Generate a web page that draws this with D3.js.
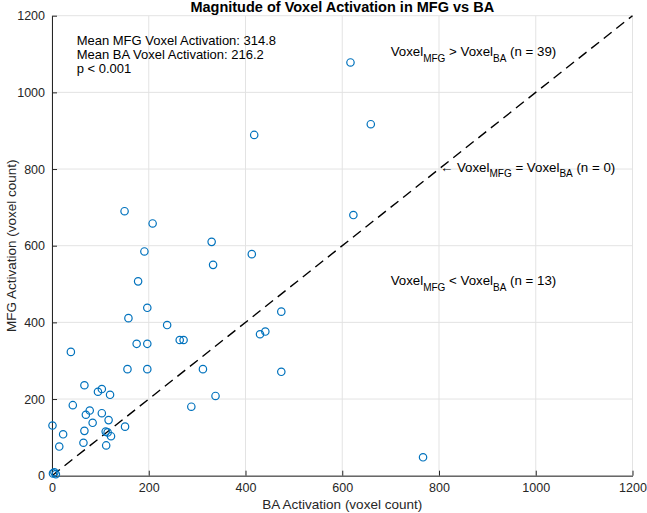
<!DOCTYPE html>
<html>
<head>
<meta charset="utf-8">
<script src="https://cdn.jsdelivr.net/npm/d3@7"></script>
<style>
  body { margin: 0; background: #fff; }
  text { font-family: "Liberation Sans", Arial, Helvetica, sans-serif; }
</style>
</head>
<body>
<div id="chart"></div>
<script>
// BA activation (x) and MFG activation (y), voxel counts, one entry per subject
var baValues = [178, 197, 158, 238, 39, 175, 197, 264, 272, 156, 197, 67, 103, 95, 120, 43, 78, 70, 103, 117,
                84, 1, 67, 23, 65, 15, 150, 208, 330, 191, 413, 333, 418, 617, 659, 623, 111, 2, 5,
                474, 430, 441, 312, 474, 338, 288, 767, 151, 122, 112, 115, 8];
var mfgValues = [507, 438, 411, 393, 323, 344, 344, 354, 354, 278, 278, 236, 226, 219, 211, 184, 170, 159, 163, 145,
                 138, 131, 117, 108, 86, 76, 690, 658, 610, 585, 578, 550, 889, 1078, 917, 680, 115, 6, 9,
                 428, 369, 376, 278, 271, 208, 180, 48, 128, 103, 79, 113, 4];
var tickValues = [0, 200, 400, 600, 800, 1000, 1200];
var statLines = ["Mean MFG Voxel Activation: 314.8", "Mean BA Voxel Activation: 216.2", "p < 0.001"];

var width = 647, height = 513;
var margin = {top: 15.7, right: 14.5, bottom: 37.3, left: 52};

var svg = d3.select("#chart").append("svg")
    .attr("width", width)
    .attr("height", height);

var x = d3.scaleLinear()
    .domain([0, 1200])
    .range([margin.left, width - margin.right]);

var y = d3.scaleLinear()
    .domain([0, 1200])
    .range([height - margin.bottom, margin.top]);

var axisColor = "#262626";

// grid
svg.append("g")
    .selectAll("line")
    .data(tickValues)
    .enter().append("line")
    .attr("x1", x).attr("x2", x)
    .attr("y1", y(0)).attr("y2", y(1200))
    .attr("stroke", "#e3e3e3");

svg.append("g")
    .selectAll("line")
    .data(tickValues)
    .enter().append("line")
    .attr("y1", y).attr("y2", y)
    .attr("x1", x(0)).attr("x2", x(1200))
    .attr("stroke", "#e3e3e3");

// axes (ticks pointing inward like matlab)
var xAxis = svg.append("g")
    .attr("transform", "translate(0," + y(0) + ")")
    .call(d3.axisBottom(x).tickValues(tickValues).tickFormat(d3.format("d"))
      .tickSizeInner(-5).tickSizeOuter(0).tickPadding(7));

var yAxis = svg.append("g")
    .attr("transform", "translate(" + x(0) + ",0)")
    .call(d3.axisLeft(y).tickValues(tickValues).tickFormat(d3.format("d"))
      .tickSizeInner(-5).tickSizeOuter(0).tickPadding(7));

[xAxis, yAxis].forEach(function(a) {
  a.select(".domain").attr("stroke", axisColor);
  a.selectAll(".tick line").attr("stroke", axisColor);
  a.selectAll(".tick text")
      .attr("fill", axisColor)
      .style("font-size", "12.5px")
      .style("font-family", "'Liberation Sans', Arial, sans-serif");
});

// identity line
svg.append("line")
    .attr("x1", x(0)).attr("y1", y(0))
    .attr("x2", x(1200)).attr("y2", y(1200))
    .attr("stroke", "#000")
    .attr("stroke-width", 1.4)
    .attr("stroke-dasharray", "10,6");

// points
svg.append("g")
    .selectAll("circle")
    .data(baValues)
    .enter().append("circle")
    .attr("cx", function(d) { return x(d); })
    .attr("cy", function(d, i) { return y(mfgValues[i]); })
    .attr("r", 3.7)
    .attr("fill", "none")
    .attr("stroke", "#0072BD")
    .attr("stroke-width", 1.2);

// title + axis labels
svg.append("text")
    .attr("x", (x(0) + x(1200)) / 2)
    .attr("y", 12)
    .attr("text-anchor", "middle")
    .style("font-size", "14.5px")
    .style("font-weight", "bold")
    .text("Magnitude of Voxel Activation in MFG vs BA");

svg.append("text")
    .attr("x", (x(0) + x(1200)) / 2)
    .attr("y", 509)
    .attr("text-anchor", "middle")
    .attr("fill", axisColor)
    .style("font-size", "13.5px")
    .text("BA Activation (voxel count)");

svg.append("text")
    .attr("transform", "translate(16," + (y(0) + y(1200)) / 2 + ") rotate(-90)")
    .attr("text-anchor", "middle")
    .attr("fill", axisColor)
    .style("font-size", "13.5px")
    .text("MFG Activation (voxel count)");

// stats block
svg.append("g")
    .selectAll("text")
    .data(statLines)
    .enter().append("text")
    .attr("x", x(51))
    .attr("y", function(d, i) { return 45 + i * 13.8; })
    .style("font-size", "13px")
    .text(function(d) { return d; });

// region annotations with subscripts
function voxelLabel(px, py, prefix, op, suffix) {
  var t = svg.append("text")
      .attr("x", px)
      .attr("y", py)
      .style("font-size", "13.3px");
  t.append("tspan").text(prefix + "Voxel");
  t.append("tspan").attr("dy", 5.5).style("font-size", "10px").text("MFG");
  t.append("tspan").attr("dy", -5.5).text(" " + op + " Voxel");
  t.append("tspan").attr("dy", 5.5).style("font-size", "10px").text("BA");
  t.append("tspan").attr("dy", -5.5).text(" " + suffix);
  return t;
}

voxelLabel(x(700), 56, "", ">", "(n = 39)");
voxelLabel(x(802), 171.5, "\u2190 ", "=", "(n = 0)");
voxelLabel(x(700), 285, "", "<", "(n = 13)");
</script>
</body>
</html>
